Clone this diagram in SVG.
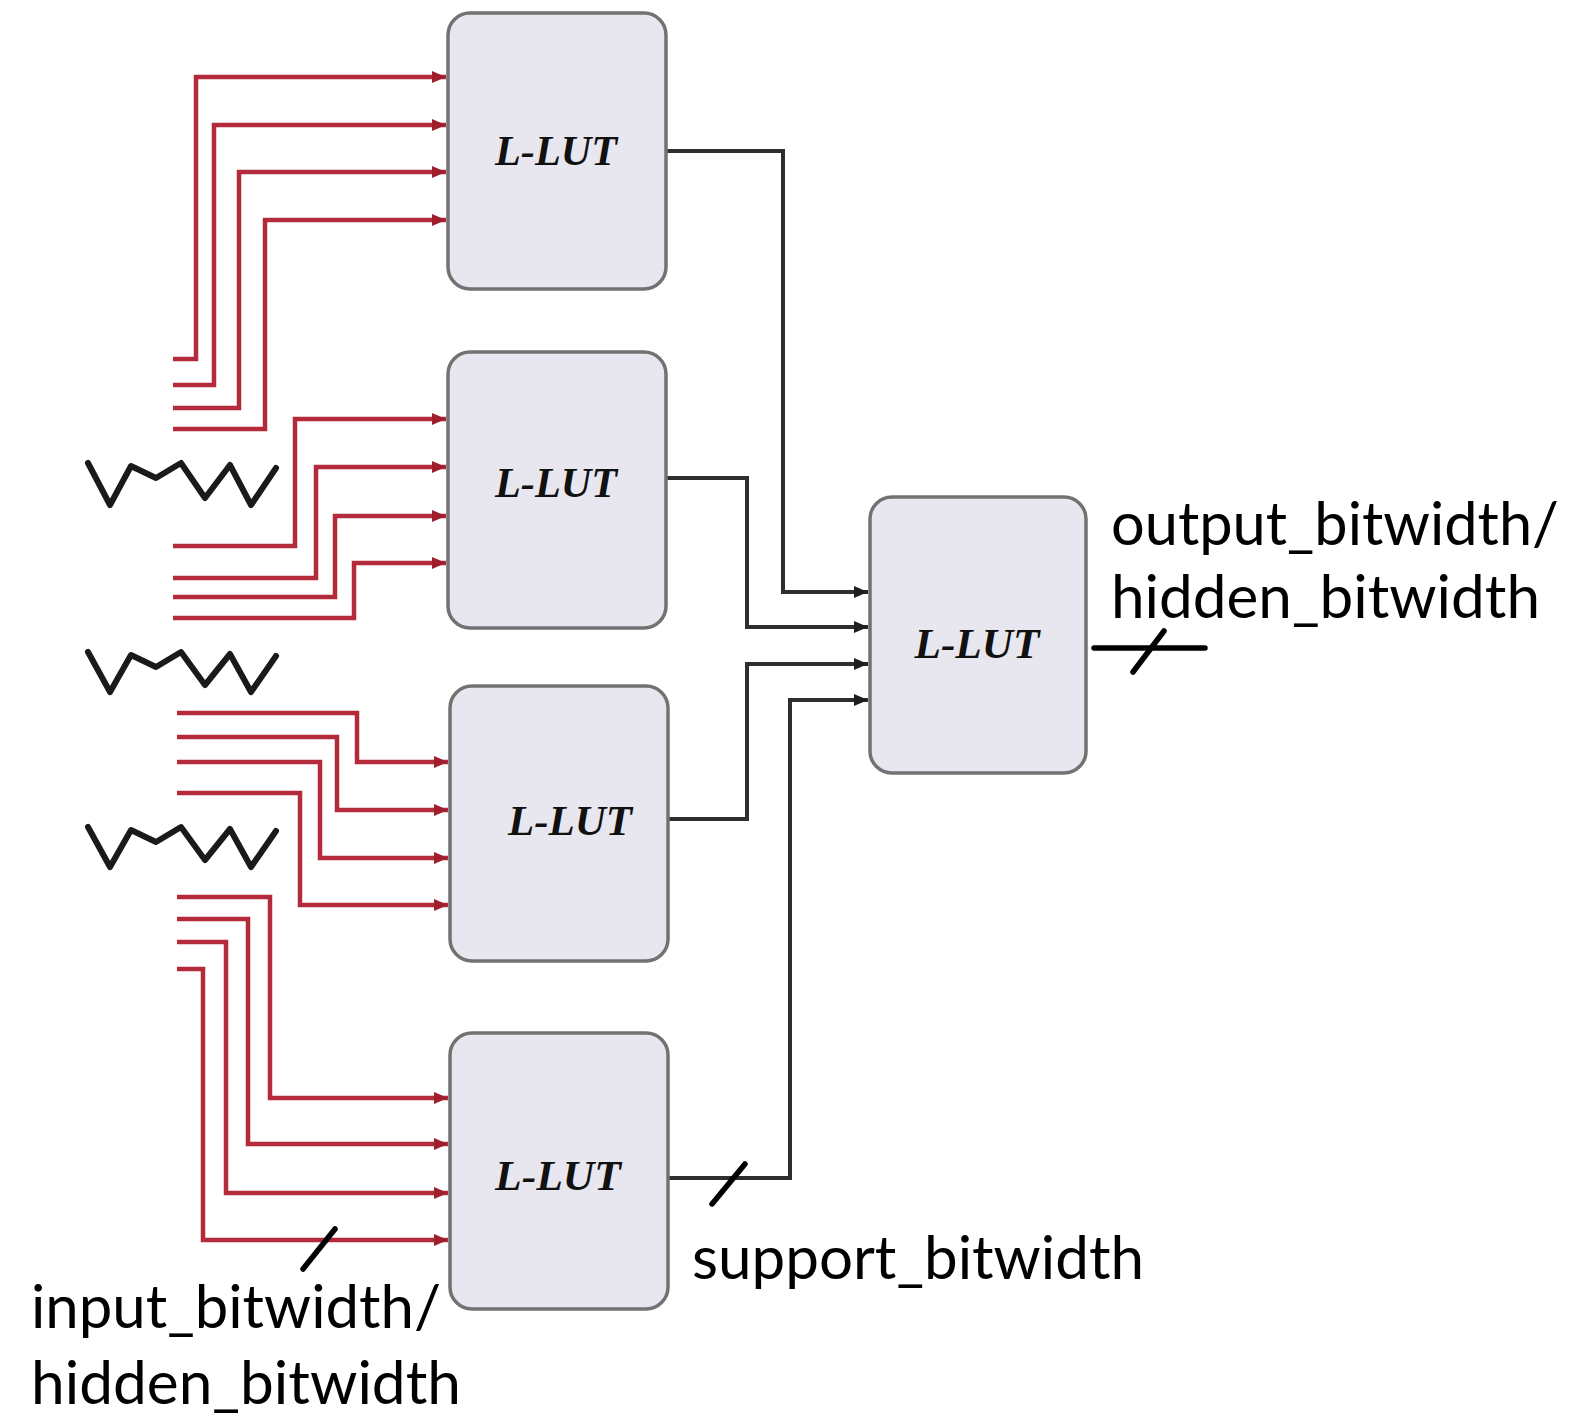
<svg xmlns="http://www.w3.org/2000/svg" width="1584" height="1417" viewBox="0 0 1584 1417">
  <defs>
    <marker id="arrRed" markerUnits="userSpaceOnUse" markerWidth="16" markerHeight="14" refX="14" refY="7" orient="auto">
      <path d="M0,1 L14,7 L0,13 Z" fill="#9e1e2c"/>
    </marker>
    <marker id="arrBlk" markerUnits="userSpaceOnUse" markerWidth="16" markerHeight="14" refX="14" refY="7" orient="auto">
      <path d="M0,1 L14,7 L0,13 Z" fill="#1e1e1e"/>
    </marker>
  </defs>
  <style>
    .box { fill: #e8e7ef; stroke: #727272; stroke-width: 3.5; }
    .lut { font-family: "Liberation Serif", "Times New Roman", serif; font-weight: bold; font-style: italic; font-size: 43px; fill: #111; text-anchor: middle; }
    .red { fill: none; stroke: #b32b3b; stroke-width: 4.5; stroke-linejoin: miter; }
    .blk { fill: none; stroke: #2e2e2e; stroke-width: 4; stroke-linejoin: miter; }
    .zig { fill: none; stroke: #1a1a1a; stroke-width: 6; stroke-linejoin: round; stroke-linecap: round; }
    .tick { fill: none; stroke: #000; stroke-width: 5.5; stroke-linecap: round; }
    .lbl { font-family: Lato, "Open Sans", "Liberation Sans", sans-serif; font-size: 60px; fill: #000; }
  </style>
  <rect width="1584" height="1417" fill="#ffffff"/>

  <g id="connectors">
    <!-- inputs to LUT 1 -->
    <path class="red" d="M173,359 H196 V77 H446" marker-end="url(#arrRed)"/>
    <path class="red" d="M173,385 H214 V125 H446" marker-end="url(#arrRed)"/>
    <path class="red" d="M173,408 H239 V172 H446" marker-end="url(#arrRed)"/>
    <path class="red" d="M173,429 H265 V220 H446" marker-end="url(#arrRed)"/>
    <!-- inputs to LUT 2 -->
    <path class="red" d="M173,546 H295 V419 H446" marker-end="url(#arrRed)"/>
    <path class="red" d="M173,578 H316 V467 H446" marker-end="url(#arrRed)"/>
    <path class="red" d="M173,597 H335 V516 H446" marker-end="url(#arrRed)"/>
    <path class="red" d="M173,618 H354 V563 H446" marker-end="url(#arrRed)"/>
    <!-- inputs to LUT 3 -->
    <path class="red" d="M177,713 H357 V762 H448" marker-end="url(#arrRed)"/>
    <path class="red" d="M177,737 H337 V810 H448" marker-end="url(#arrRed)"/>
    <path class="red" d="M177,762 H320 V858 H448" marker-end="url(#arrRed)"/>
    <path class="red" d="M177,793 H300 V905 H448" marker-end="url(#arrRed)"/>
    <!-- inputs to LUT 4 -->
    <path class="red" d="M177,897 H270 V1098 H448" marker-end="url(#arrRed)"/>
    <path class="red" d="M177,919 H248 V1144 H448" marker-end="url(#arrRed)"/>
    <path class="red" d="M177,942 H226 V1193 H448" marker-end="url(#arrRed)"/>
    <path class="red" d="M177,969 H203 V1240 H448" marker-end="url(#arrRed)"/>
    <!-- outputs to final LUT -->
    <path class="blk" d="M667,151 H783 V592 H868" marker-end="url(#arrBlk)"/>
    <path class="blk" d="M667,478 H747 V627 H868" marker-end="url(#arrBlk)"/>
    <path class="blk" d="M667,819 H747 V664 H868" marker-end="url(#arrBlk)"/>
    <path class="blk" d="M667,1178 H790 V700 H868" marker-end="url(#arrBlk)"/>
    <!-- final output -->
    <path class="tick" d="M1094,648 H1205"/>
    <!-- bus width ticks -->
    <path class="tick" d="M1133,672 L1164,631"/>
    <path class="tick" d="M712,1204 L745,1164"/>
    <path class="tick" d="M303,1269 L335,1229"/>
  </g>

  <g id="ellipses">
    <polyline class="zig" points="88,463 110,505 131,466 156,478 181,463 205,498 230,465 251,505 276,468"/>
    <polyline class="zig" points="88,652 110,692 131,655 156,667 181,652 205,685 230,654 251,692 276,656"/>
    <polyline class="zig" points="88,827 110,867 131,830 156,842 181,827 205,860 230,829 251,867 276,831"/>
  </g>

  <g id="lut1">
    <rect class="box" x="448" y="13" width="218" height="276" rx="22"/>
    <text class="lut" x="556" y="165" textLength="122" lengthAdjust="spacingAndGlyphs">L-LUT</text>
  </g>
  <g id="lut2">
    <rect class="box" x="448" y="352" width="218" height="276" rx="22"/>
    <text class="lut" x="556" y="497" textLength="122" lengthAdjust="spacingAndGlyphs">L-LUT</text>
  </g>
  <g id="lut3">
    <rect class="box" x="450" y="686" width="218" height="275" rx="22"/>
    <text class="lut" x="570" y="835" textLength="124" lengthAdjust="spacingAndGlyphs">L-LUT</text>
  </g>
  <g id="lut4">
    <rect class="box" x="450" y="1033" width="218" height="276" rx="22"/>
    <text class="lut" x="558" y="1190" textLength="126" lengthAdjust="spacingAndGlyphs">L-LUT</text>
  </g>
  <g id="lut5">
    <rect class="box" x="870" y="497" width="216" height="276" rx="22"/>
    <text class="lut" x="977" y="658" textLength="125" lengthAdjust="spacingAndGlyphs">L-LUT</text>
  </g>

  <g id="labels">
    <text class="lbl" x="1111" y="545" textLength="448" lengthAdjust="spacingAndGlyphs">output_bitwidth/</text>
    <text class="lbl" x="1111" y="618" textLength="429" lengthAdjust="spacingAndGlyphs">hidden_bitwidth</text>
    <text class="lbl" x="692" y="1279" textLength="452" lengthAdjust="spacingAndGlyphs">support_bitwidth</text>
    <text class="lbl" x="31" y="1328" textLength="410" lengthAdjust="spacingAndGlyphs">input_bitwidth/</text>
    <text class="lbl" x="31" y="1404" textLength="430" lengthAdjust="spacingAndGlyphs">hidden_bitwidth</text>
  </g>
</svg>
